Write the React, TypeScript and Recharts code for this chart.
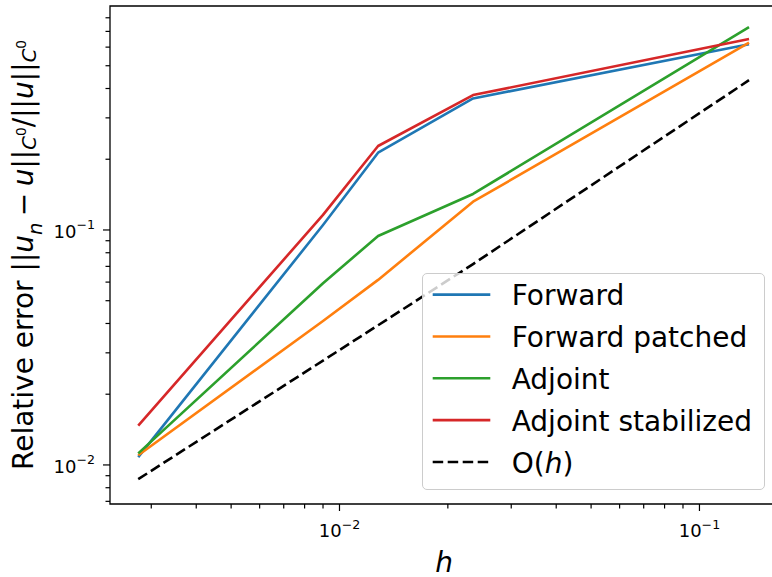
import React from "react";
import {
  LineChart,
  Line,
  XAxis,
  YAxis,
  Legend,
  ReferenceArea,
} from "recharts";

// mesh sizes h and relative C0 errors
const H = [0.00276, 0.009, 0.0128, 0.0235, 0.1373];
const FORWARD = [0.0108, 0.105, 0.2133, 0.363, 0.617];
const FORWARD_PATCHED = [0.011, 0.041, 0.0613, 0.1319, 0.627];
const ADJOINT = [0.0112, 0.0593, 0.0943, 0.1423, 0.73];
const ADJOINT_STAB = [0.0147, 0.116, 0.2277, 0.375, 0.65];
const O_H = [0.0087, 0.0278, 0.0393, 0.0716, 0.434];

const X_TICKS = [
  0.003, 0.004, 0.005, 0.006, 0.007, 0.008, 0.009, 0.01,
  0.02, 0.03, 0.04, 0.05, 0.06, 0.07, 0.08, 0.09, 0.1,
];
const Y_TICKS = [
  0.007, 0.008, 0.009, 0.01,
  0.02, 0.03, 0.04, 0.05, 0.06, 0.07, 0.08, 0.09, 0.1,
  0.2, 0.3, 0.4, 0.5, 0.6, 0.7, 0.8,
];
const X_DOMAIN: [number, number] = [0.002304, 0.16213];
const Y_DOMAIN: [number, number] = [0.00682, 0.8978];

const SERIES = [
  { key: "forward", name: "Forward", color: "#1f77b4" },
  { key: "forwardPatched", name: "Forward patched", color: "#ff7f0e" },
  { key: "adjoint", name: "Adjoint", color: "#2ca02c" },
  { key: "adjointStab", name: "Adjoint stabilized", color: "#d62728" },
];

const data = H.map((h, i) => ({
  h,
  forward: FORWARD[i],
  forwardPatched: FORWARD_PATCHED[i],
  adjoint: ADJOINT[i],
  adjointStab: ADJOINT_STAB[i],
  oh: O_H[i],
}));

const FONT = "'DejaVu Sans', sans-serif";

function exponent(v: number) {
  const e = Math.log10(v);
  return Math.abs(e - Math.round(e)) < 1e-6 ? Math.round(e) : null;
}

function XTick({ x, y, payload }: any) {
  const e = exponent(payload.value);
  const len = e === null ? 4.5 : 7;
  return (
    <g>
      <line x1={x} x2={x} y1={y} y2={y + len} stroke="#000" strokeWidth={1.2} />
      {e !== null && (
        <text x={x} y={y + 33} textAnchor="middle" fontSize={18} fontFamily={FONT} fill="#000">
          10
          <tspan fontSize={12.6} dy={-8.5}>
            {"\u2212" + Math.abs(e)}
          </tspan>
        </text>
      )}
    </g>
  );
}

function YTick({ x, y, payload }: any) {
  const e = exponent(payload.value);
  const len = e === null ? 4.5 : 7;
  return (
    <g>
      <line x1={x} x2={x - len} y1={y} y2={y} stroke="#000" strokeWidth={1.2} />
      {e !== null && (
        <text x={x - 15} y={y + 8} textAnchor="end" fontSize={18} fontFamily={FONT} fill="#000">
          10
          <tspan fontSize={12.6} dy={-8.5}>
            {"\u2212" + Math.abs(e)}
          </tspan>
        </text>
      )}
    </g>
  );
}

function YLabel() {
  return (
    <text
      transform="translate(33,255) rotate(-90)"
      textAnchor="middle"
      fontSize={28}
      fontFamily={FONT}
      fill="#000"
    >
      <tspan>Relative error ||</tspan>
      <tspan fontStyle="italic">u</tspan>
      <tspan fontStyle="italic" fontSize={19.6} dy={8.5}>n</tspan>
      <tspan fontSize={20} dy={-8.5}>{" "}</tspan>
      <tspan>{"\u2212"}</tspan>
      <tspan fontSize={20}>{" "}</tspan>
      <tspan fontStyle="italic">u</tspan>
      <tspan>||</tspan>
      <tspan fontStyle="italic" fontSize={19.6} dy={2.5}>C</tspan>
      <tspan fontSize={13.7} dy={-10}>0</tspan>
      <tspan dy={7.5}>/||</tspan>
      <tspan fontStyle="italic">u</tspan>
      <tspan>||</tspan>
      <tspan fontStyle="italic" fontSize={19.6} dy={2.5}>C</tspan>
      <tspan fontSize={13.7} dy={-10}>0</tspan>
    </text>
  );
}

function XLabel() {
  return (
    <text x={444} y={571.5} textAnchor="middle" fontSize={28} fontStyle="italic" fontFamily={FONT} fill="#000">
      h
    </text>
  );
}

function LegendBox() {
  const rows = [
    ...SERIES.map((s) => ({ label: <tspan>{s.name}</tspan>, color: s.color, dash: undefined as string | undefined })),
    {
      label: (
        <>
          <tspan>O(</tspan>
          <tspan fontStyle="italic">h</tspan>
          <tspan>)</tspan>
        </>
      ),
      color: "#000",
      dash: "10.5 4.5",
    },
  ];
  return (
    <div
      style={{
        width: 343,
        height: 217,
        boxSizing: "border-box",
        background: "rgba(255,255,255,0.8)",
        border: "1px solid #cccccc",
        borderRadius: 5,
      }}
    >
      <svg width={341} height={215} style={{ display: "block" }}>
        {rows.map((r, i) => {
          const cy = 20.6 + i * 41.85;
          return (
            <g key={i}>
              <line x1={9.7} x2={67.3} y1={cy} y2={cy} stroke={r.color} strokeWidth={2.6} strokeDasharray={r.dash} />
              <text x={88.7} y={cy + 10.7} fontSize={28} fontFamily={FONT} fill="#000">
                {r.label}
              </text>
            </g>
          );
        })}
      </svg>
    </div>
  );
}

export default function App() {
  return (
    <div style={{ width: 772, height: 577, overflow: "hidden", position: "relative", background: "#fff" }}>
      <style>{`body{margin:0}`}</style>
      <LineChart width={776} height={577} data={data} margin={{ top: 6, right: 1, left: 0, bottom: 0 }}>
        <XAxis
          dataKey="h"
          type="number"
          scale="log"
          domain={X_DOMAIN}
          allowDataOverflow
          ticks={X_TICKS}
          interval={0}
          tickLine={false}
          axisLine={false}
          tickSize={0}
          tickMargin={0}
          tick={<XTick />}
          height={73}
          label={{ content: () => <XLabel /> }}
        />
        <YAxis
          type="number"
          scale="log"
          domain={Y_DOMAIN}
          allowDataOverflow
          ticks={Y_TICKS}
          interval={0}
          tickLine={false}
          axisLine={false}
          tickSize={0}
          tickMargin={0}
          tick={<YTick />}
          width={110}
          label={{ content: () => <YLabel /> }}
        />
        {SERIES.map((s) => (
          <Line
            key={s.key}
            type="linear"
            dataKey={s.key}
            name={s.name}
            stroke={s.color}
            strokeWidth={2.6}
            strokeLinejoin="round"
            dot={false}
            activeDot={false}
            isAnimationActive={false}
          />
        ))}
        <Line
          type="linear"
          dataKey="oh"
          name="O(h)"
          stroke="#000"
          strokeWidth={2.6}
          strokeDasharray="10.5 4.5"
          dot={false}
          activeDot={false}
          isAnimationActive={false}
        />
        <ReferenceArea
          x1={X_DOMAIN[0]}
          x2={X_DOMAIN[1]}
          y1={Y_DOMAIN[0]}
          y2={Y_DOMAIN[1]}
          fill="none"
          stroke="#000"
          strokeWidth={1.3}
          ifOverflow="visible"
        />
        <Legend
          layout="vertical"
          align="center"
          verticalAlign="middle"
          content={() => <LegendBox />}
          wrapperStyle={{ position: "absolute", left: 421.7, top: 272.7, width: 343, height: 217 }}
        />
      </LineChart>
    </div>
  );
}
